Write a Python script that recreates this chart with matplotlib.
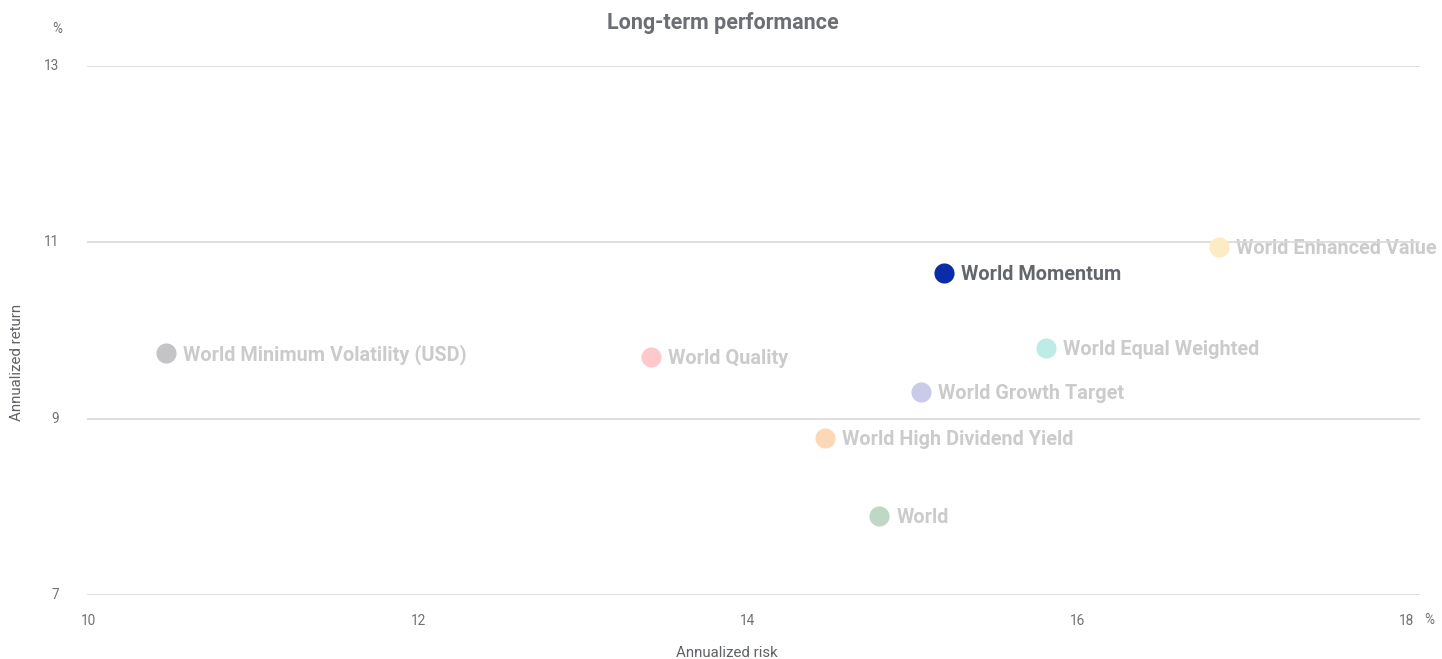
import matplotlib
matplotlib.use("Agg")
import matplotlib.pyplot as plt

names = ["World Minimum Volatility (USD)", "World Quality", "World Momentum",
         "World Enhanced Value", "World Equal Weighted", "World Growth Target",
         "World High Dividend Yield", "World"]
risk = [10.47, 13.41, 15.19, 16.86, 15.81, 15.05, 14.47, 14.80]
ret = [9.75, 9.70, 10.65, 10.95, 9.80, 9.30, 8.78, 7.90]
colors = ["#c4c4c6", "#ffc8cb", "#0a2ca8", "#fdecc3", "#bdebe5", "#c9cbe9",
          "#fdd8b7", "#bed8c5"]
highlight = "World Momentum"

x_ticks = [10, 12, 14, 16, 18]
y_ticks = [7, 9, 11, 13]

plt.rcParams['font.family'] = ['Roboto', 'DejaVu Sans']

fig = plt.figure(figsize=(14.42, 6.59), dpi=100)
ax = fig.add_axes([87/1442, 64/659, 1333/1442, 529/659])
ax.set_xlim(9.988, 18.082)
ax.set_ylim(7, 13)

for n, x, y, c in zip(names, risk, ret, colors):
    ax.scatter([x], [y], s=210, color=c, zorder=3, linewidths=0)
    tc = "#63666c" if n == highlight else "#cbcbcb"
    ax.annotate(n, (x, y), xytext=(12.3, -1.2), textcoords="offset points",
                va="center", ha="left", fontsize=14.3, fontweight="bold",
                color=tc, zorder=2)

ax.set_xticks(x_ticks)
ax.set_yticks(y_ticks)
ax.set_xticklabels([str(t) for t in x_ticks])
ax.set_yticklabels([str(t) for t in y_ticks])
ax.tick_params(axis='both', length=0, labelsize=9.8, colors="#6f7175")
ax.tick_params(axis='x', pad=14)
ax.tick_params(axis='y', pad=20)
for lbl in ax.get_yticklabels():
    lbl.set_verticalalignment('center')
ax.yaxis.grid(True, color="#dcd7d9", linewidth=1.2, zorder=2.5)
ax.set_axisbelow(False)
ax.xaxis.grid(False)
for s in ax.spines.values():
    s.set_visible(False)

fig.text(723/1442, 1 - 23.5/659, "Long-term performance", ha="center", va="center",
         fontsize=15.5, fontweight="bold", color="#6b6e73")
fig.text(57/1442, 1 - 29/659, "%", ha="center", va="center", fontsize=9.8, color="#6f7175")
fig.text(1429/1442, 1 - 620/659, "%", ha="center", va="center", fontsize=9.8, color="#6f7175")
fig.text(727/1442, 1 - 653/659, "Annualized risk", ha="center", va="center",
         fontsize=10.8, color="#5f6267")
fig.text(17/1442, 1 - 362/659, "Annualized return", ha="center", va="center",
         rotation=90, fontsize=10.8, color="#5f6267")

fig.savefig("out.png", dpi=100, facecolor="white")
